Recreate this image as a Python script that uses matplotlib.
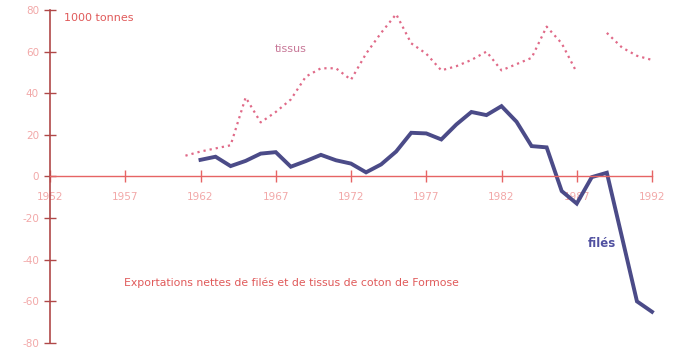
import numpy as np
import matplotlib
matplotlib.use('Agg')
import matplotlib.pyplot as plt

# net exports of cotton yarn (filés) and cloth (tissus), thousand tonnes
years_files = list(range(1962, 1993))
files = [8, 9.5, 5, 7.5, 11, 11.7, 4.7, 7.4, 10.4, 7.8, 6.2, 2, 5.8, 12, 21, 20.7,
         17.8, 25, 31, 29.5, 33.8, 26.3, 14.6, 14, -7, -13, -0.3, 1.8, -29, -60, -65]

years_tissus = list(range(1961, 1993))
tissus = [10, 12, 13.5, 15, 38, 26, 31, 37, 48, 52, 52, 46.5, 59, 69, 78, 64,
          59, 51, 53, 56, 60, 51, 54, 57, 72, 64, 50, np.nan, 69, 62, 58, 56]

year_ticks = [1952, 1957, 1962, 1967, 1972, 1977, 1982, 1987, 1992]
value_ticks = [-80, -60, -40, -20, 0, 20, 40, 60, 80]

AXIS_RED = '#e66464'
LABEL_PINK = '#f2a8a8'


def main():
    fig = plt.figure(figsize=(6.77, 3.58), dpi=100)
    ax = fig.add_axes([50 / 677, 15 / 358, 602 / 677, 333 / 358])

    ax.plot(years_tissus, tissus, color='#e06a88', linestyle=(0, (1, 1.8)),
            linewidth=1.6, clip_on=False)
    ax.plot(years_files, files, color='#4b4b88', linewidth=2.8,
            solid_joinstyle='miter', clip_on=False)

    ax.set_xlim(1952, 1992)
    ax.set_ylim(-80, 80)

    for side in ('top', 'right'):
        ax.spines[side].set_visible(False)
    ax.spines['bottom'].set_position(('data', 0))
    ax.spines['bottom'].set_color(AXIS_RED)
    ax.spines['bottom'].set_linestyle((0, (4, 1)))
    ax.spines['bottom'].set_linewidth(1.0)
    ax.spines['left'].set_color('#b04848')
    ax.spines['left'].set_linewidth(1.2)

    ax.set_xticks(year_ticks)
    ax.set_yticks(value_ticks)
    ax.set_yticklabels([str(v) for v in value_ticks])
    ax.tick_params(axis='x', direction='inout', length=8, width=1,
                   color=AXIS_RED, labelcolor=LABEL_PINK, labelsize=7.5, pad=7)
    ax.tick_params(axis='y', direction='inout', length=8, width=1,
                   color='#b04848', labelcolor=LABEL_PINK, labelsize=7.5, pad=4)

    ax.text(1952.9, 76, '1000 tonnes', color='#e05a5a', fontsize=8,
            va='center', ha='left')
    ax.text(1966.9, 61.5, 'tissus', color='#c87898', fontsize=8,
            va='center', ha='left')
    ax.text(1989.6, -32, 'filés', color='#5050a0', fontsize=8.5,
            fontweight='bold', va='center', ha='right')
    ax.text(1956.9, -51, 'Exportations nettes de filés et de tissus de coton de Formose',
            color='#e05a5a', fontsize=7.8, va='center', ha='left')

    fig.savefig('out.png', dpi=100, facecolor='white')


if __name__ == '__main__':
    main()
